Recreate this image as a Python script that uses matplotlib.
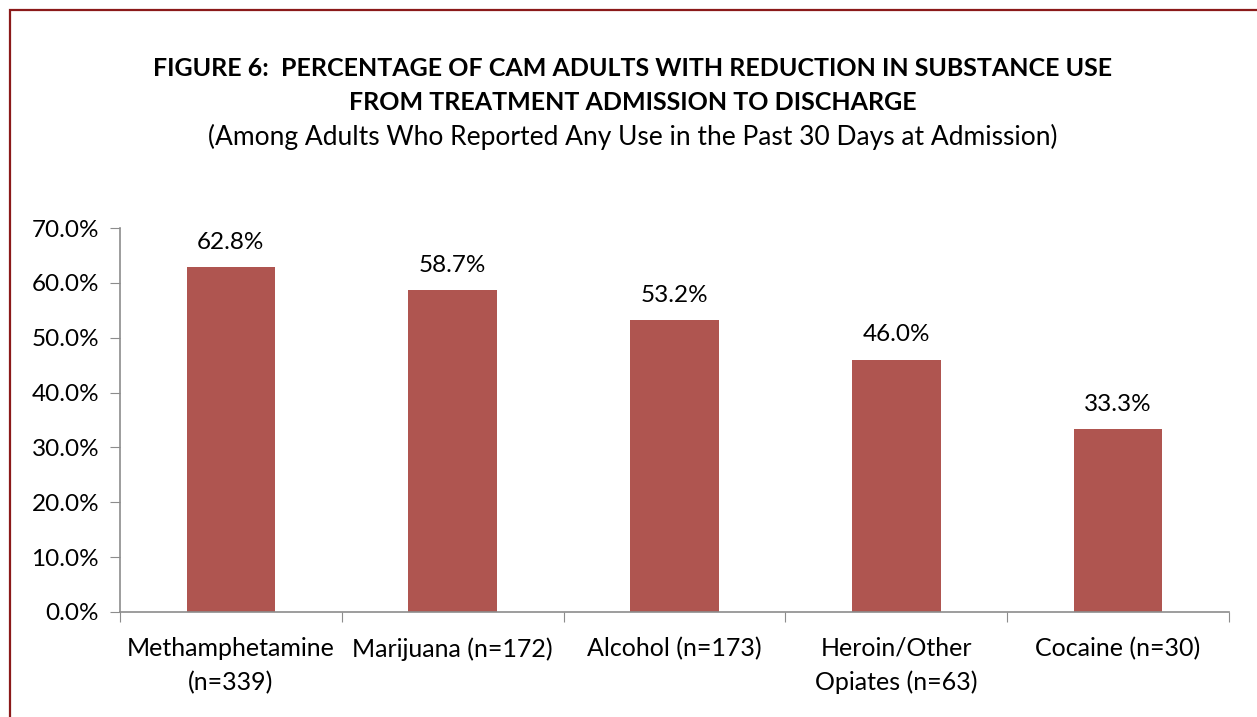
import matplotlib
matplotlib.use("Agg")
import matplotlib.pyplot as plt
from matplotlib.patches import Rectangle
from matplotlib.ticker import FuncFormatter

plt.rcParams["font.family"] = ["Lato", "DejaVu Sans"]

categories = ["Methamphetamine\n(n=339)", "Marijuana (n=172)", "Alcohol (n=173)",
              "Heroin/Other\nOpiates (n=63)", "Cocaine (n=30)"]
values = [62.8, 58.7, 53.2, 46.0, 33.3]

BAR_COLOR = "#AF5550"
AXIS_COLOR = "#8C8C8C"

fig = plt.figure(figsize=(12.57, 7.17), dpi=100)

# 외곽 테두리
fig.patches.append(Rectangle((10 / 1257, -0.05), 1.2, 1 - 10 / 717 + 0.05,
                             transform=fig.transFigure, fill=False,
                             edgecolor="#8B1A1A", linewidth=1.6))

ax = fig.add_axes([120 / 1257, 1 - 612 / 717, (1229 - 120) / 1257, (612 - 228) / 717])

x = range(len(values))
ax.bar(x, values, width=0.4, color=BAR_COLOR)

for i, v in enumerate(values):
    ax.text(i, v + 2.6, f"{v:.1f}%", ha="center", va="bottom", fontsize=17.5)

ax.set_xlim(-0.5, len(values) - 0.5)
ax.set_ylim(0, 70)
ax.set_yticks(range(0, 71, 10))
ax.yaxis.set_major_formatter(FuncFormatter(lambda v, _: f"{v:.1f}%"))

# 카테고리 경계에 눈금, 라벨은 막대 중앙
ax.set_xticks([i - 0.5 for i in range(len(values) + 1)], minor=False)
ax.set_xticklabels([])
ax.set_xticks(list(x), minor=True)
ax.set_xticklabels(categories, minor=True, fontsize=18, linespacing=1.55)
ax.tick_params(axis="x", which="minor", length=0, pad=18)
ax.tick_params(axis="x", which="major", length=7, color=AXIS_COLOR, direction="out")
ax.tick_params(axis="y", length=7, color=AXIS_COLOR, labelsize=17.5, pad=8)

for side in ["top", "right"]:
    ax.spines[side].set_visible(False)
for side in ["left", "bottom"]:
    ax.spines[side].set_color(AXIS_COLOR)
    ax.spines[side].set_linewidth(1.2)

fig.text(633 / 1257, 1 - 68 / 717, "FIGURE 6:  PERCENTAGE OF CAM ADULTS WITH REDUCTION IN SUBSTANCE USE",
         ha="center", va="center", fontsize=18, fontweight="bold")
fig.text(633 / 1257, 1 - 103 / 717, "FROM TREATMENT ADMISSION TO DISCHARGE",
         ha="center", va="center", fontsize=18, fontweight="bold")
fig.text(633 / 1257, 1 - 137 / 717, "(Among Adults Who Reported Any Use in the Past 30 Days at Admission)",
         ha="center", va="center", fontsize=19)

fig.savefig("out.png", dpi=100)
